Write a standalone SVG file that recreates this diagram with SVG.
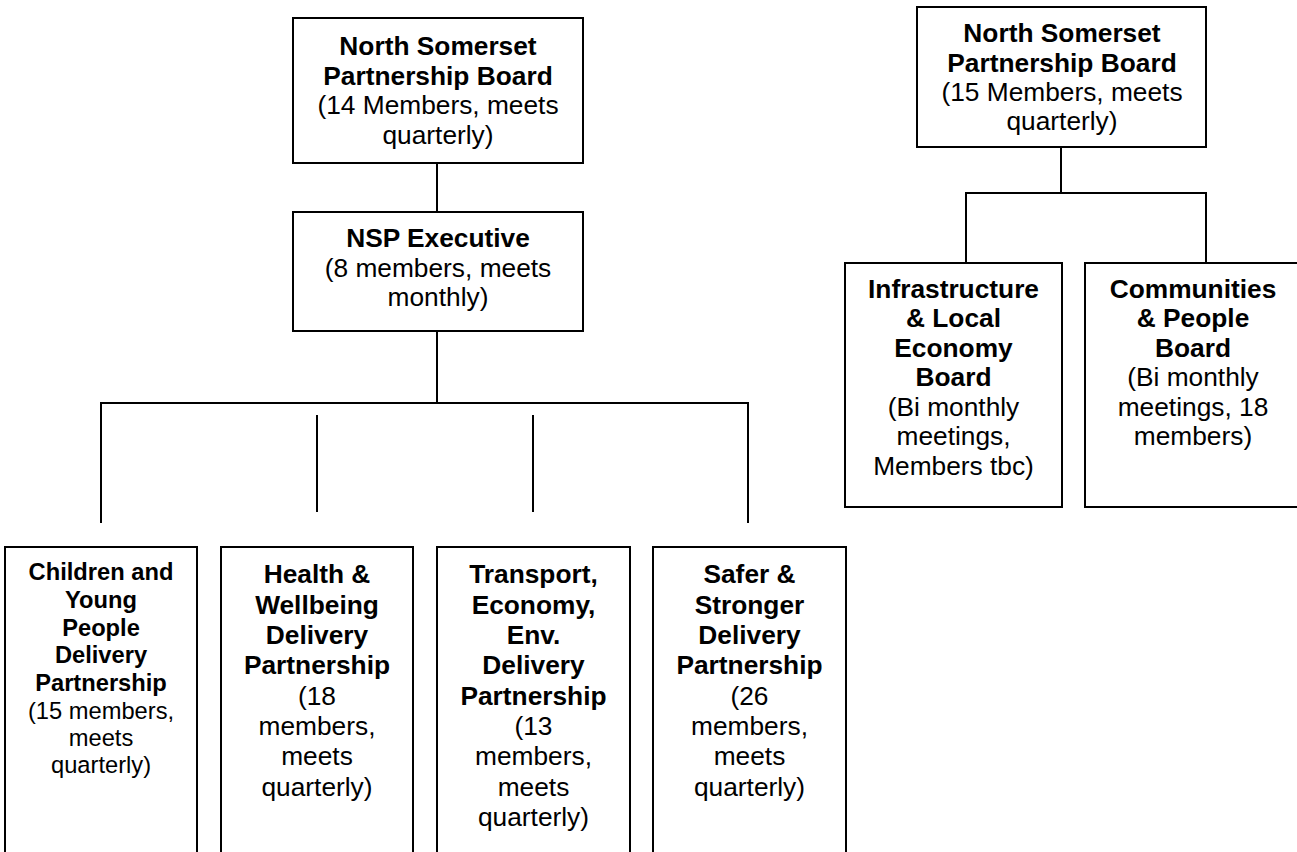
<svg xmlns="http://www.w3.org/2000/svg" width="1297" height="852" viewBox="0 0 1297 852">
<style>
.box{fill:#fff;stroke:#000;stroke-width:2}
.ln{fill:none;stroke:#000;stroke-width:2}
text{font-family:"Liberation Sans",Arial,sans-serif;font-size:26.3px;fill:#000;text-anchor:middle}
.b{font-weight:bold}
.sm{font-size:23.7px}
</style>
<rect width="1297" height="852" fill="#fff"/>
<g id="connectors">
<path class="ln" d="M437,163V212"/>
<path class="ln" d="M437,331V403M101,523V403H748V523"/>
<path class="ln" d="M317,415V512M533,415V512"/>
<path class="ln" d="M1061,147V193M966,263V193H1206V263"/>
</g>
<g id="nspb14">
<rect class="box" x="293" y="18" width="290" height="145"/>
<text x="438" y="55" class="b">North Somerset</text>
<text x="438" y="84.5" class="b">Partnership Board</text>
<text x="438" y="114">(14 Members, meets</text>
<text x="438" y="143.5">quarterly)</text>
</g>
<g id="nspexec">
<rect class="box" x="293" y="212" width="290" height="119"/>
<text x="438" y="246.5" class="b">NSP Executive</text>
<text x="438" y="276.5">(8 members, meets</text>
<text x="438" y="306">monthly)</text>
</g>
<g id="cyp">
<rect class="box" x="5" y="547" width="192" height="320"/>
<text x="101" y="580" class="b sm">Children and</text>
<text x="101" y="608" class="b sm">Young</text>
<text x="101" y="636" class="b sm">People</text>
<text x="101" y="663" class="b sm">Delivery</text>
<text x="101" y="691" class="b sm">Partnership</text>
<text x="101" y="719" class="sm">(15 members,</text>
<text x="101" y="746" class="sm">meets</text>
<text x="101" y="773" class="sm">quarterly)</text>
</g>
<g id="hw">
<rect class="box" x="221" y="547" width="192" height="320"/>
<text x="317" y="583" class="b">Health &amp;</text>
<text x="317" y="613.5" class="b">Wellbeing</text>
<text x="317" y="644" class="b">Delivery</text>
<text x="317" y="674" class="b">Partnership</text>
<text x="317" y="704.5">(18</text>
<text x="317" y="735">members,</text>
<text x="317" y="765">meets</text>
<text x="317" y="795.5">quarterly)</text>
</g>
<g id="tee">
<rect class="box" x="437" y="547" width="193" height="320"/>
<text x="533.5" y="583" class="b">Transport,</text>
<text x="533.5" y="613.5" class="b">Economy,</text>
<text x="533.5" y="644" class="b">Env.</text>
<text x="533.5" y="674" class="b">Delivery</text>
<text x="533.5" y="704.5" class="b">Partnership</text>
<text x="533.5" y="735">(13</text>
<text x="533.5" y="765">members,</text>
<text x="533.5" y="795.5">meets</text>
<text x="533.5" y="826">quarterly)</text>
</g>
<g id="ss">
<rect class="box" x="653" y="547" width="193" height="320"/>
<text x="749.5" y="583" class="b">Safer &amp;</text>
<text x="749.5" y="613.5" class="b">Stronger</text>
<text x="749.5" y="644" class="b">Delivery</text>
<text x="749.5" y="674" class="b">Partnership</text>
<text x="749.5" y="704.5">(26</text>
<text x="749.5" y="735">members,</text>
<text x="749.5" y="765">meets</text>
<text x="749.5" y="795.5">quarterly)</text>
</g>
<g id="nspb15">
<rect class="box" x="917" y="7" width="289" height="140"/>
<text x="1062" y="42" class="b">North Somerset</text>
<text x="1062" y="71.5" class="b">Partnership Board</text>
<text x="1062" y="101">(15 Members, meets</text>
<text x="1062" y="130">quarterly)</text>
</g>
<g id="infra">
<rect class="box" x="845" y="263" width="217" height="244"/>
<text x="953.5" y="298" class="b">Infrastructure</text>
<text x="953.5" y="327" class="b">&amp; Local</text>
<text x="953.5" y="356.5" class="b">Economy</text>
<text x="953.5" y="386" class="b">Board</text>
<text x="953.5" y="415.5">(Bi monthly</text>
<text x="953.5" y="445">meetings,</text>
<text x="953.5" y="474.5">Members tbc)</text>
</g>
<g id="comm">
<rect class="box" x="1085" y="263" width="217" height="244"/>
<text x="1193" y="298" class="b">Communities</text>
<text x="1193" y="327" class="b">&amp; People</text>
<text x="1193" y="356.5" class="b">Board</text>
<text x="1193" y="386">(Bi monthly</text>
<text x="1193" y="415.5">meetings, 18</text>
<text x="1193" y="445">members)</text>
</g>
</svg>
